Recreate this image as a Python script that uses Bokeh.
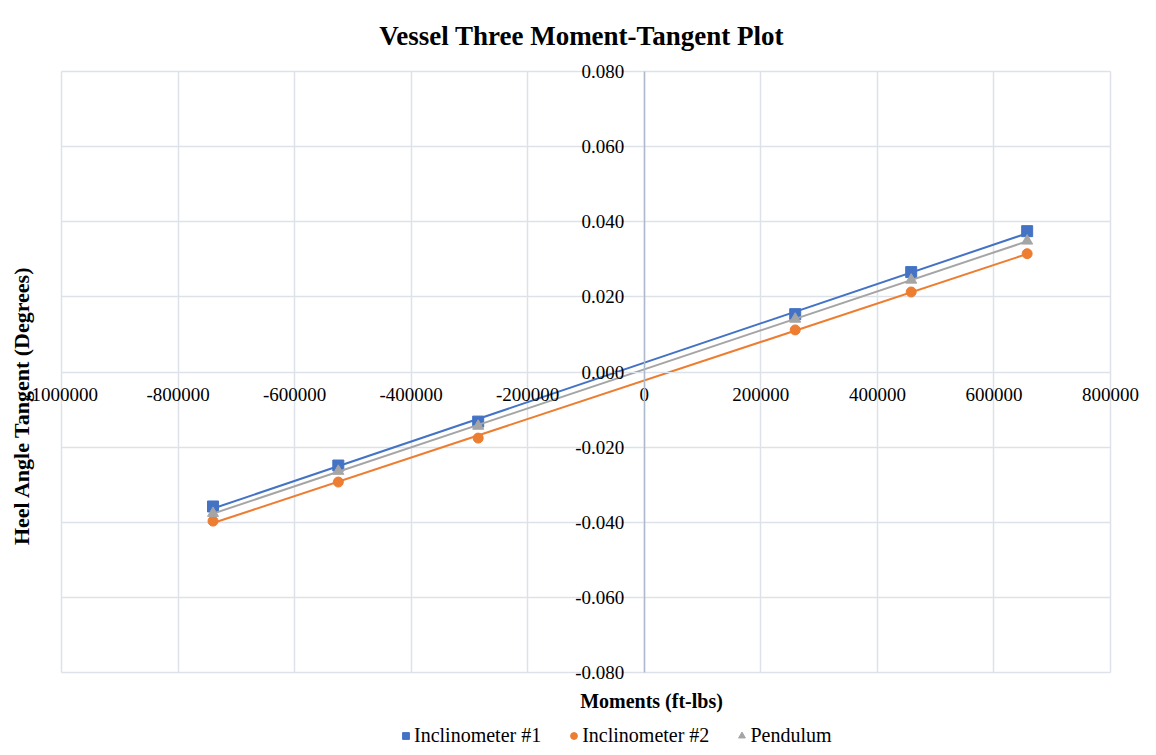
import numpy as np
from bokeh.plotting import figure
from bokeh.models import (Range1d, SingleIntervalTicker, NumeralTickFormatter,
                          Legend, LegendItem, Label)
from bokeh.embed import file_html
from bokeh.resources import INLINE

# ---- data ----
moments = [-740000, -525000, -285000, 259000, 458000, 657000]
incl1 = [-0.0358, -0.0249, -0.0132, 0.0154, 0.0266, 0.0375]
incl2 = [-0.0397, -0.0293, -0.0176, 0.0112, 0.0213, 0.0315]
pendulum = [-0.0376, -0.0264, -0.0144, 0.0141, 0.0245, 0.0349]

series_names = ["Inclinometer #1", "Inclinometer #2", "Pendulum"]
colors = ["#4472C4", "#ED7D31", "#A5A5A5"]
markers = ["square", "circle", "triangle"]

X_MIN, X_MAX, X_STEP = -1000000, 800000, 200000
Y_MIN, Y_MAX, Y_STEP = -0.08, 0.08, 0.02

FONT = "Liberation Serif"
GRID = "#DDE2EA"

# Figure is one big frame; the plot area sits inside it with pixel margins
W, H = 1148, 747
PAD_L, PAD_R, PAD_T, PAD_B = 61, 38, 71, 75
plot_w = W - PAD_L - PAD_R
plot_h = H - PAD_T - PAD_B
ux = (X_MAX - X_MIN) / plot_w
uy = (Y_MAX - Y_MIN) / plot_h

p = figure(width=W, height=H, output_backend="svg", toolbar_location=None,
           x_range=Range1d(X_MIN - PAD_L * ux, X_MAX + PAD_R * ux),
           y_range=Range1d(Y_MIN - PAD_B * uy, Y_MAX + PAD_T * uy),
           min_border=0)
p.outline_line_color = None
p.background_fill_color = "white"
p.border_fill_color = "white"

# grids limited to the plot area
p.xgrid.ticker = SingleIntervalTicker(interval=X_STEP)
p.ygrid.ticker = SingleIntervalTicker(interval=Y_STEP)
p.xgrid.bounds = (X_MIN, X_MAX)
p.ygrid.bounds = (Y_MIN, Y_MAX)
p.xgrid.cross_bounds = (Y_MIN, Y_MAX)
p.ygrid.cross_bounds = (X_MIN, X_MAX)
for g in (p.xgrid[0], p.ygrid[0]):
    g.grid_line_color = GRID
    g.grid_line_width = 1.5

# axes crossing at zero
xa = p.xaxis[0]
xa.fixed_location = 0
xa.bounds = (X_MIN, X_MAX)
xa.ticker = SingleIntervalTicker(interval=X_STEP)
xa.formatter = NumeralTickFormatter(format="0")
xa.axis_line_color = GRID
xa.major_tick_line_color = None
xa.minor_tick_line_color = None
xa.major_tick_out = 0
xa.minor_tick_out = 0
xa.major_label_standoff = 16
xa.major_label_text_font = FONT
xa.major_label_text_font_size = "19px"
xa.major_label_text_color = "#000000"

ya = p.yaxis[0]
ya.fixed_location = 0
ya.bounds = (Y_MIN, Y_MAX)
ya.ticker = SingleIntervalTicker(interval=Y_STEP)
ya.formatter = NumeralTickFormatter(format="0.000")
ya.axis_line_color = "#AEB9CB"
ya.axis_line_width = 1.5
ya.major_tick_line_color = None
ya.minor_tick_line_color = None
ya.major_tick_out = 0
ya.minor_tick_out = 0
ya.major_label_standoff = 20
ya.major_label_text_font = FONT
ya.major_label_text_font_size = "19px"
ya.major_label_text_color = "#000000"

# titles (screen units, relative to frame bottom-left)
p.add_layout(Label(x=581, y=H - 35, x_units="screen", y_units="screen",
                   text="Vessel Three Moment-Tangent Plot", text_font=FONT,
                   text_font_size="27px", text_font_style="bold",
                   text_align="center", text_baseline="middle", text_color="#000000"))
p.add_layout(Label(x=21, y=H - 405, x_units="screen", y_units="screen",
                   text="Heel Angle Tangent (Degrees)", text_font=FONT,
                   text_font_size="22px", text_font_style="bold", angle=np.pi / 2,
                   text_align="center", text_baseline="middle", text_color="#000000"))
p.add_layout(Label(x=651, y=H - 700, x_units="screen", y_units="screen",
                   text="Moments (ft-lbs)", text_font=FONT,
                   text_font_size="20px", text_font_style="bold",
                   text_align="center", text_baseline="middle", text_color="#000000"))

# trendlines + markers
items = []
for name, ys, c, m in zip(series_names, [incl1, incl2, pendulum], colors, markers):
    xs = np.array(moments, dtype=float)
    slope, icpt = np.polyfit(xs, np.array(ys), 1)
    lx = [xs.min(), xs.max()]
    p.line(lx, [slope * v + icpt for v in lx], line_color=c, line_width=2)
    r = p.scatter(moments, ys, marker=m, size=11 if m != "circle" else 10,
                  fill_color=c, line_color=c)
    items.append(LegendItem(label=name, renderers=[r]))

legend = Legend(items=items, orientation="horizontal", location=(397, 0),
                label_text_font=FONT, label_text_font_size="20px",
                label_text_color="#000000", border_line_color=None,
                background_fill_alpha=0, spacing=24, glyph_width=17,
                glyph_height=17, label_height=20, label_standoff=0,
                padding=0, margin=0)
p.add_layout(legend, "center")

open("out.html", "w").write(file_html(p, INLINE))
